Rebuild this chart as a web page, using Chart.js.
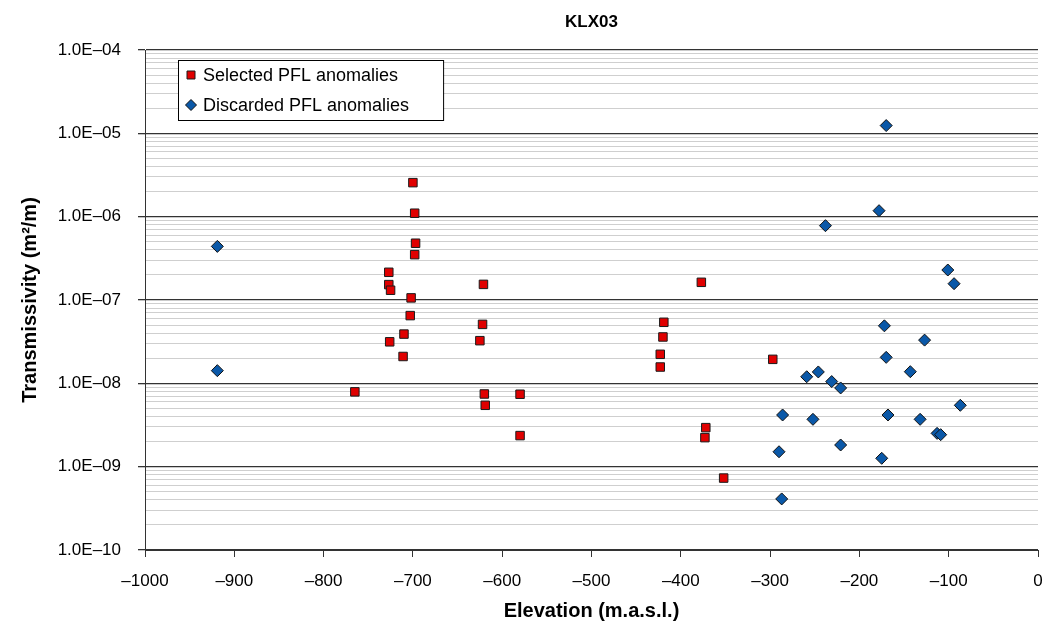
<!DOCTYPE html>
<html>
<head>
<meta charset="utf-8">
<script src="https://cdn.jsdelivr.net/npm/chart.js@4/dist/chart.umd.min.js"></script>
<style>
  html, body { margin: 0; padding: 0; background: #fff; overflow: hidden; }
  .wrap { width: 1045px; height: 640px; position: relative; }
</style>
</head>
<body>
<div class="wrap"><canvas class="pfl-chart"></canvas></div>
<script>
// PFL anomalies, elevation (m.a.s.l.) vs transmissivity (m2/m)
const selectedElev = [-700, -698, -697, -698, -727, -727, -725, -702, -703, -710, -726, -711, -765,
    -621, -622, -625, -620, -619, -580, -580, -377, -419, -420, -423, -423, -372, -373, -352, -297];
const selectedT = [2.56e-6, 1.1e-6, 4.8e-7, 3.5e-7, 2.15e-7, 1.53e-7, 1.31e-7, 1.06e-7, 6.5e-8, 3.9e-8, 3.15e-8, 2.1e-8, 7.9e-9,
    1.54e-7, 5.1e-8, 3.25e-8, 7.45e-9, 5.45e-9, 7.4e-9, 2.36e-9, 1.63e-7, 5.4e-8, 3.6e-8, 2.23e-8, 1.57e-8, 2.94e-9, 2.23e-9, 7.3e-10, 1.94e-8];

const discardedElev = [-919, -919, -170, -178, -238, -101, -94, -172, -127, -170, -259, -246, -143,
    -231, -221, -87, -286, -168, -252, -132, -113, -109, -221, -290, -175, -287];
const discardedT = [4.4e-7, 1.42e-8, 1.24e-5, 1.18e-6, 7.8e-7, 2.29e-7, 1.57e-7, 4.9e-8, 3.3e-8, 2.05e-8, 1.2e-8, 1.37e-8, 1.38e-8,
    1.05e-8, 8.8e-9, 5.45e-9, 4.17e-9, 4.17e-9, 3.7e-9, 3.7e-9, 2.51e-9, 2.42e-9, 1.82e-9, 1.51e-9, 1.26e-9, 4.1e-10];

const seriesNames = ["Selected PFL anomalies", "Discarded PFL anomalies"];

// y axis: decades + minor steps
const yDecades = [1e-10, 1e-9, 1e-8, 1e-7, 1e-6, 1e-5, 1e-4];
const yTickLabels = ["1.0E\u201310", "1.0E\u201309", "1.0E\u201308", "1.0E\u201307", "1.0E\u201306", "1.0E\u201305", "1.0E\u201304"];
const yMinorSteps = [2, 3, 4, 5, 6, 7, 8, 9];

const FONT = "'Liberation Sans', Arial, sans-serif";

const toPoints = (xs, ys) => xs.map((x, i) => ({ x: x, y: ys[i] }));

const decadeIndex = (v) => yDecades.findIndex((d) => Math.abs(v - d) / d < 1e-6);

// legend box drawn inside the plot area, top-left
const boxLegend = {
    id: "boxLegend",
    afterDatasetsDraw(chart) {
        const ctx = chart.ctx;
        const left = 178, top = 60, rowH = 30;
        ctx.save();
        ctx.font = "18px " + FONT;
        const textX = left + 25;
        const maxW = Math.max(...seriesNames.map((s) => ctx.measureText(s).width));
        const w = textX - left + maxW + 34;
        ctx.fillStyle = "#fff";
        ctx.fillRect(left, top, w, rowH * 2);
        ctx.strokeStyle = "#000";
        ctx.lineWidth = 1;
        ctx.strokeRect(left + 0.5, top + 0.5, w, rowH * 2);
        chart.data.datasets.forEach((ds, i) => {
            const cy = top + rowH * i + rowH / 2;
            const cx = left + 13;
            ctx.fillStyle = ds.backgroundColor;
            ctx.strokeStyle = ds.borderColor;
            ctx.beginPath();
            if (ds.pointStyle === "rect") {
                ctx.rect(cx - 4, cy - 4, 8, 8);
            } else {
                ctx.moveTo(cx, cy - 5.5);
                ctx.lineTo(cx + 5.5, cy);
                ctx.lineTo(cx, cy + 5.5);
                ctx.lineTo(cx - 5.5, cy);
                ctx.closePath();
            }
            ctx.fill();
            ctx.stroke();
            ctx.fillStyle = "#000";
            ctx.textBaseline = "middle";
            ctx.fillText(ds.label, textX, cy + 1);
        });
        ctx.restore();
    },
};

const chartCtx = document.querySelector(".pfl-chart").getContext("2d");

new Chart(chartCtx, {
    type: "scatter",
    data: {
        datasets: [
            {
                label: seriesNames[0],
                data: toPoints(selectedElev, selectedT),
                pointStyle: "rect",
                pointRadius: 6,
                pointHoverRadius: 6,
                backgroundColor: "#e00000",
                borderColor: "#1a1a1a",
                borderWidth: 1,
            },
            {
                label: seriesNames[1],
                data: toPoints(discardedElev, discardedT),
                pointStyle: "rectRot",
                pointRadius: 6,
                pointHoverRadius: 6,
                backgroundColor: "#0a58a8",
                borderColor: "#111",
                borderWidth: 1,
            },
        ],
    },
    options: {
        responsive: true,
        maintainAspectRatio: false,
        animation: false,
        layout: {
            padding: { top: 0, right: 0, bottom: 0, left: 0 },
        },
        scales: {
            x: {
                type: "linear",
                min: -1000,
                max: 0,
                afterFit: (scale) => {
                    scale.height = 90;
                    // let the last label ("0") run off the right edge
                    scale.paddingRight = 2.5;
                },
                border: { color: "#333", width: 1 },
                grid: {
                    drawOnChartArea: false,
                    drawTicks: true,
                    tickLength: 7,
                    tickColor: "#333",
                },
                ticks: {
                    stepSize: 100,
                    color: "#000",
                    padding: 14,
                    maxRotation: 0,
                    font: { family: FONT, size: 17 },
                    callback: (v) => (v < 0 ? "\u2013" + Math.abs(v) : "0"),
                },
                title: {
                    display: true,
                    text: "Elevation (m.a.s.l.)",
                    color: "#000",
                    padding: { top: 0, bottom: 17 },
                    font: { family: FONT, size: 20, weight: "bold" },
                },
            },
            y: {
                type: "logarithmic",
                min: 1e-10,
                max: 1e-4,
                afterFit: (scale) => {
                    scale.width = 145;
                },
                afterBuildTicks: (scale) => {
                    const ticks = [];
                    yDecades.forEach((d, i) => {
                        ticks.push({ value: d, major: true });
                        if (i < yDecades.length - 1) {
                            yMinorSteps.forEach((k) => ticks.push({ value: k * d, major: false }));
                        }
                    });
                    scale.ticks = ticks;
                },
                border: { color: "#333", width: 1 },
                grid: {
                    color: (c) => (c.tick && c.tick.major ? "#333" : "#cfcfcf"),
                    tickColor: (c) => (c.tick && c.tick.major ? "#333" : "rgba(0,0,0,0)"),
                    tickLength: 7,
                    lineWidth: (c) => (c.tick && c.tick.major ? 1.3 : 1),
                },
                ticks: {
                    autoSkip: false,
                    color: "#000",
                    padding: 17,
                    font: { family: FONT, size: 17 },
                    callback: function (value) {
                        const i = decadeIndex(value);
                        return i >= 0 ? yTickLabels[i] : "";
                    },
                },
                title: {
                    display: true,
                    text: "Transmissivity (m\u00b2/m)",
                    color: "#000",
                    padding: { top: 18, bottom: 0 },
                    font: { family: FONT, size: 20, weight: "bold" },
                },
            },
        },
        plugins: {
            legend: { display: false },
            tooltip: { enabled: false },
            title: {
                display: true,
                text: "KLX03",
                fullSize: false,
                color: "#000",
                padding: { top: 12, bottom: 17.6 },
                font: { family: FONT, size: 17, weight: "bold" },
            },
        },
    },
    plugins: [boxLegend],
});
</script>
</body>
</html>
